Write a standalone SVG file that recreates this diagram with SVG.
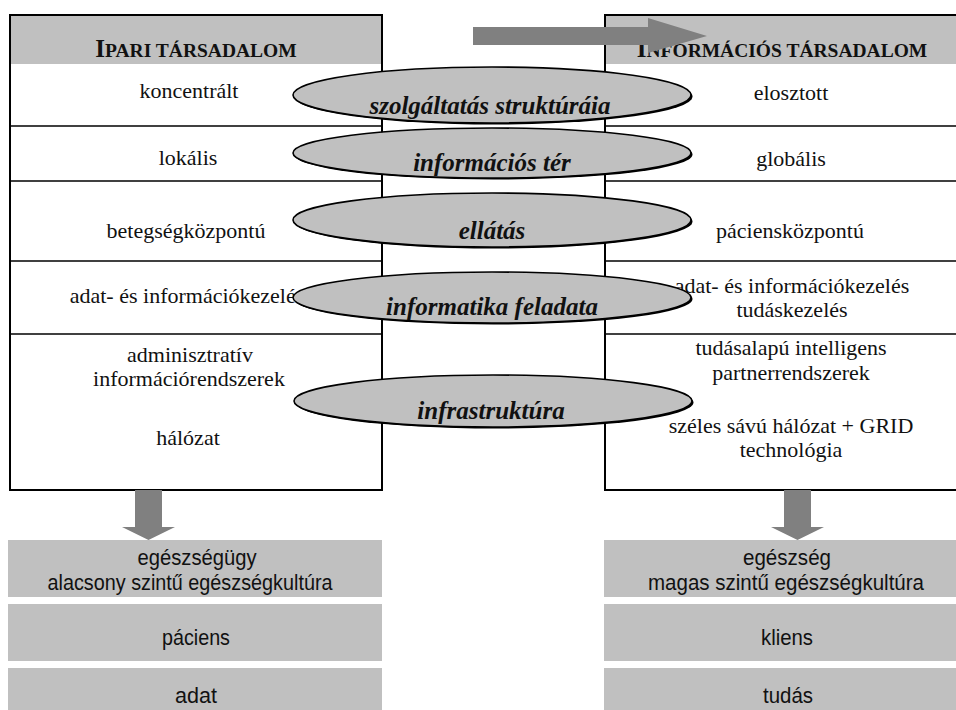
<svg xmlns="http://www.w3.org/2000/svg" width="956" height="710" viewBox="0 0 956 710">
<style>
.bg{fill:#ffffff}
.hdr{fill:#c0c0c0}
.frame{fill:none;stroke:#000;stroke-width:2}
.line{stroke:#000;stroke-width:1.5}
.t{font-family:"Liberation Serif","Times New Roman",serif;font-size:22px;fill:#111;text-anchor:middle}
.h{font-family:"Liberation Serif","Times New Roman",serif;font-weight:bold;fill:#111;text-anchor:middle;font-size:19.5px}
.big{font-size:25px}
.e{fill:#c0c0c0;stroke:#000;stroke-width:1.6}
.esh{fill:#000}
.et{font-family:"Liberation Serif","Times New Roman",serif;font-size:25px;font-weight:bold;font-style:italic;fill:#111;text-anchor:middle}
.box{fill:#c0c0c0}
.s{font-family:"Liberation Sans",Arial,sans-serif;font-size:22px;fill:#111;text-anchor:middle}
.arrow{fill:#808080}
</style>
<defs>
<clipPath id="c1"><ellipse cx="492" cy="95" rx="199" ry="28"/></clipPath>
</defs>
<rect class="bg" x="0" y="0" width="956" height="710"/>

<g id="left-table">
<rect class="hdr" x="10" y="16" width="372" height="48"/>
<rect class="frame" x="10" y="15" width="372" height="475"/>
<line class="line" x1="10" y1="126" x2="382" y2="126"/>
<line class="line" x1="10" y1="181" x2="382" y2="181"/>
<line class="line" x1="10" y1="261" x2="382" y2="261"/>
<line class="line" x1="10" y1="334" x2="382" y2="334"/>
<text class="h" x="196" y="57"><tspan class="big">I</tspan>PARI TÁRSADALOM</text>
<text class="t" x="189" y="98">koncentrált</text>
<text class="t" x="188" y="165">lokális</text>
<text class="t" x="186" y="238">betegségközpontú</text>
<text class="t" x="187" y="303">adat- és információkezelés</text>
<text class="t" x="190" y="362">adminisztratív</text>
<text class="t" x="189" y="386">információrendszerek</text>
<text class="t" x="188" y="445">hálózat</text>
</g>

<g id="right-table">
<rect class="hdr" x="605" y="16" width="351" height="48"/>
<path class="frame" d="M960 15 H605 V490 H960"/>
<line class="line" x1="605" y1="126" x2="956" y2="126"/>
<line class="line" x1="605" y1="181" x2="956" y2="181"/>
<line class="line" x1="605" y1="261" x2="956" y2="261"/>
<line class="line" x1="605" y1="334" x2="956" y2="334"/>
<text class="h" x="782" y="57"><tspan class="big">I</tspan>NFORMÁCIÓS TÁRSADALOM</text>
<text class="t" x="791" y="100">elosztott</text>
<text class="t" x="791" y="166">globális</text>
<text class="t" x="790" y="238">páciensközpontú</text>
<text class="t" x="792" y="293">adat- és információkezelés</text>
<text class="t" x="792" y="317">tudáskezelés</text>
<text class="t" x="791" y="355">tudásalapú intelligens</text>
<text class="t" x="791" y="380">partnerrendszerek</text>
<text class="t" x="791" y="433">széles sávú hálózat + GRID</text>
<text class="t" x="791" y="457">technológia</text>
</g>

<g id="ellipse-1">
<ellipse class="esh" cx="493.5" cy="96.5" rx="199" ry="28"/>
<ellipse class="e" cx="492" cy="95" rx="199" ry="28" style="stroke:none"/>
<text class="et" x="490" y="114" clip-path="url(#c1)">szolgáltatás struktúráia</text>
<ellipse class="e" cx="492" cy="95" rx="199" ry="28" style="fill:none"/>
</g>
<g id="ellipse-2">
<ellipse class="esh" cx="493.5" cy="154.5" rx="199" ry="25"/>
<ellipse class="e" cx="492" cy="153" rx="199" ry="25"/>
<text class="et" x="492" y="171">információs tér</text>
</g>
<g id="ellipse-3">
<ellipse class="esh" cx="493.5" cy="221.5" rx="199" ry="27"/>
<ellipse class="e" cx="492" cy="220" rx="199" ry="27"/>
<text class="et" x="492" y="239">ellátás</text>
</g>
<g id="ellipse-4">
<ellipse class="esh" cx="493.5" cy="299" rx="199" ry="25.5"/>
<ellipse class="e" cx="492" cy="297.5" rx="199" ry="25.5"/>
<text class="et" x="492" y="315">informatika feladata</text>
</g>
<g id="ellipse-5">
<ellipse class="esh" cx="494.5" cy="402.5" rx="199" ry="26"/>
<ellipse class="e" cx="493" cy="401" rx="199" ry="26"/>
<text class="et" x="491" y="419">infrastruktúra</text>
</g>

<g id="connectors">
<path class="arrow" d="M473 27 H648 V18 L707 36 L648 53 V45 H473 Z"/>
<path class="arrow" d="M135 490 H162 V527 H175 L148.5 540 L122 527 H135 Z"/>
<path class="arrow" d="M784 490 H811 V527 H824 L797.5 540 L771 527 H784 Z"/>
</g>

<g id="left-boxes">
<rect class="box" x="8" y="540" width="374" height="57"/>
<rect class="box" x="8" y="604" width="374" height="57"/>
<rect class="box" x="8" y="668" width="374" height="42"/>
<text class="s" x="197" y="565" textLength="119" lengthAdjust="spacingAndGlyphs">egészségügy</text>
<text class="s" x="190" y="590" textLength="285" lengthAdjust="spacingAndGlyphs">alacsony szintű egészségkultúra</text>
<text class="s" x="196" y="645" textLength="68" lengthAdjust="spacingAndGlyphs">páciens</text>
<text class="s" x="196" y="703" textLength="42" lengthAdjust="spacingAndGlyphs">adat</text>
</g>

<g id="right-boxes">
<rect class="box" x="604" y="540" width="352" height="57"/>
<rect class="box" x="604" y="604" width="352" height="57"/>
<rect class="box" x="604" y="668" width="352" height="42"/>
<text class="s" x="787" y="565" textLength="88" lengthAdjust="spacingAndGlyphs">egészség</text>
<text class="s" x="786" y="590" textLength="276" lengthAdjust="spacingAndGlyphs">magas szintű egészségkultúra</text>
<text class="s" x="787" y="645" textLength="52" lengthAdjust="spacingAndGlyphs">kliens</text>
<text class="s" x="788" y="703" textLength="50" lengthAdjust="spacingAndGlyphs">tudás</text>
</g>
</svg>
